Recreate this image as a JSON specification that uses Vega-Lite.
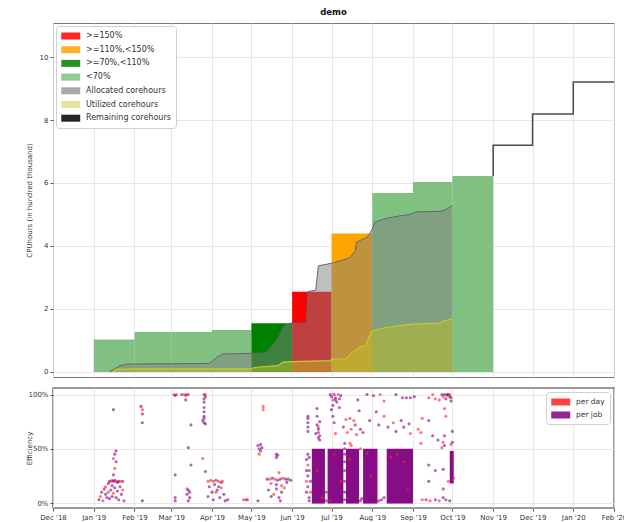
{
  "$schema": "https://vega.github.io/schema/vega-lite/v6.json",
  "padding": {"left": 24, "top": 7, "right": 0, "bottom": 0},
  "spacing": 9,
  "datasets": {
    "months": [
      {"s": "2019-01-01", "e": "2019-02-01", "v": 1.03, "c": "<70%"},
      {"s": "2019-02-01", "e": "2019-03-01", "v": 1.27, "c": "<70%"},
      {"s": "2019-03-01", "e": "2019-04-01", "v": 1.27, "c": "<70%"},
      {"s": "2019-04-01", "e": "2019-05-01", "v": 1.33, "c": "<70%"},
      {"s": "2019-05-01", "e": "2019-06-01", "v": 1.55, "c": ">=70%,<110%"},
      {"s": "2019-06-01", "e": "2019-07-01", "v": 2.55, "c": ">=150%"},
      {"s": "2019-07-01", "e": "2019-08-01", "v": 4.40, "c": ">=110%,<150%"},
      {"s": "2019-08-01", "e": "2019-09-01", "v": 5.68, "c": "<70%"},
      {"s": "2019-09-01", "e": "2019-10-01", "v": 6.03, "c": "<70%"},
      {"s": "2019-10-01", "e": "2019-11-01", "v": 6.22, "c": "<70%"}
    ],
    "alloc": [
      {"d": "2019-01-13", "v": 0}, {"d": "2019-01-21", "v": 0.20}, {"d": "2019-01-26", "v": 0.25},
      {"d": "2019-03-30", "v": 0.27}, {"d": "2019-04-05", "v": 0.47}, {"d": "2019-04-09", "v": 0.57},
      {"d": "2019-05-10", "v": 0.60}, {"d": "2019-05-13", "v": 0.64}, {"d": "2019-05-21", "v": 1.05},
      {"d": "2019-05-26", "v": 1.47}, {"d": "2019-05-31", "v": 1.55}, {"d": "2019-06-12", "v": 1.55},
      {"d": "2019-06-13", "v": 2.55}, {"d": "2019-06-19", "v": 2.60}, {"d": "2019-06-21", "v": 3.37},
      {"d": "2019-07-01", "v": 3.45}, {"d": "2019-07-12", "v": 3.58}, {"d": "2019-07-15", "v": 3.64},
      {"d": "2019-07-19", "v": 3.83}, {"d": "2019-07-20", "v": 4.12}, {"d": "2019-07-28", "v": 4.28},
      {"d": "2019-07-30", "v": 4.38}, {"d": "2019-08-01", "v": 4.55}, {"d": "2019-08-03", "v": 4.75},
      {"d": "2019-08-10", "v": 4.86}, {"d": "2019-08-21", "v": 4.95}, {"d": "2019-08-30", "v": 5.00},
      {"d": "2019-09-03", "v": 5.08}, {"d": "2019-09-22", "v": 5.10}, {"d": "2019-09-26", "v": 5.15},
      {"d": "2019-09-30", "v": 5.27}, {"d": "2019-10-01", "v": 5.27}
    ],
    "util": [
      {"d": "2019-01-15", "v": 0}, {"d": "2019-01-18", "v": 0.08}, {"d": "2019-02-01", "v": 0.10},
      {"d": "2019-04-30", "v": 0.10}, {"d": "2019-05-05", "v": 0.15}, {"d": "2019-05-21", "v": 0.20},
      {"d": "2019-05-25", "v": 0.31}, {"d": "2019-06-02", "v": 0.33}, {"d": "2019-06-30", "v": 0.36},
      {"d": "2019-07-01", "v": 0.41}, {"d": "2019-07-12", "v": 0.42}, {"d": "2019-07-17", "v": 0.63},
      {"d": "2019-07-23", "v": 0.79}, {"d": "2019-07-27", "v": 0.85}, {"d": "2019-07-30", "v": 1.15},
      {"d": "2019-08-01", "v": 1.31}, {"d": "2019-08-12", "v": 1.42}, {"d": "2019-09-01", "v": 1.52},
      {"d": "2019-09-21", "v": 1.55}, {"d": "2019-09-25", "v": 1.62}, {"d": "2019-09-30", "v": 1.68},
      {"d": "2019-10-01", "v": 1.68}
    ],
    "remain": [
      {"i": 0, "d": "2019-11-01", "v": 6.22}, {"i": 1, "d": "2019-11-01", "v": 7.20},
      {"i": 2, "d": "2019-12-01", "v": 7.20}, {"i": 3, "d": "2019-12-01", "v": 8.19},
      {"i": 4, "d": "2020-01-01", "v": 8.19}, {"i": 5, "d": "2020-01-01", "v": 9.21},
      {"i": 6, "d": "2020-02-01", "v": 9.21}
    ],
    "blocks": [
      {"d0": "2019-06-16", "d1": "2019-06-26", "e0": -0.005, "e1": 0.5, "t": "per job"},
      {"d0": "2019-06-28", "d1": "2019-07-10", "e0": -0.005, "e1": 0.5, "t": "per job"},
      {"d0": "2019-07-12", "d1": "2019-07-22", "e0": -0.005, "e1": 0.5, "t": "per job"},
      {"d0": "2019-07-25", "d1": "2019-08-05", "e0": -0.005, "e1": 0.5, "t": "per job"},
      {"d0": "2019-08-12", "d1": "2019-09-01", "e0": -0.005, "e1": 0.5, "t": "per job"},
      {"d0": "2019-09-29", "d1": "2019-10-02", "e0": 0.18, "e1": 0.48, "t": "per job"}
    ],
    "pts": [
      {"d": "2019-01-16", "e": 0.86, "t": "per job"},
      {"d": "2019-01-05", "e": 0.03, "t": "per job"},
      {"d": "2019-01-06", "e": 0.06, "t": "per day"},
      {"d": "2019-01-07", "e": 0.10, "t": "per job"},
      {"d": "2019-01-08", "e": 0.02, "t": "per day"},
      {"d": "2019-01-09", "e": 0.13, "t": "per job"},
      {"d": "2019-01-10", "e": 0.08, "t": "per job"},
      {"d": "2019-01-10", "e": 0.15, "t": "per day"},
      {"d": "2019-01-11", "e": 0.05, "t": "per job"},
      {"d": "2019-01-12", "e": 0.18, "t": "per job"},
      {"d": "2019-01-12", "e": 0.10, "t": "per day"},
      {"d": "2019-01-13", "e": 0.20, "t": "per job"},
      {"d": "2019-01-13", "e": 0.04, "t": "per job"},
      {"d": "2019-01-14", "e": 0.20, "t": "per day"},
      {"d": "2019-01-14", "e": 0.12, "t": "per job"},
      {"d": "2019-01-15", "e": 0.21, "t": "per day"},
      {"d": "2019-01-15", "e": 0.16, "t": "per job"},
      {"d": "2019-01-15", "e": 0.06, "t": "per job"},
      {"d": "2019-01-16", "e": 0.20, "t": "per job"},
      {"d": "2019-01-16", "e": 0.09, "t": "per day"},
      {"d": "2019-01-17", "e": 0.21, "t": "per job"},
      {"d": "2019-01-17", "e": 0.14, "t": "per job"},
      {"d": "2019-01-18", "e": 0.20, "t": "per day"},
      {"d": "2019-01-18", "e": 0.05, "t": "per job"},
      {"d": "2019-01-19", "e": 0.19, "t": "per job"},
      {"d": "2019-01-19", "e": 0.11, "t": "per job"},
      {"d": "2019-01-20", "e": 0.20, "t": "per job"},
      {"d": "2019-01-20", "e": 0.03, "t": "per job"},
      {"d": "2019-01-21", "e": 0.15, "t": "per job"},
      {"d": "2019-01-21", "e": 0.20, "t": "per day"},
      {"d": "2019-01-22", "e": 0.08, "t": "per job"},
      {"d": "2019-01-23", "e": 0.20, "t": "per job"},
      {"d": "2019-01-23", "e": 0.12, "t": "per day"},
      {"d": "2019-01-24", "e": 0.02, "t": "per job"},
      {"d": "2019-01-17", "e": 0.32, "t": "per day"},
      {"d": "2019-01-16", "e": 0.41, "t": "per day"},
      {"d": "2019-01-17", "e": 0.45, "t": "per job"},
      {"d": "2019-01-18", "e": 0.48, "t": "per job"},
      {"d": "2019-01-18", "e": 0.38, "t": "per job"},
      {"d": "2019-01-16", "e": 0.26, "t": "per job"},
      {"d": "2019-02-07", "e": 0.86, "t": "per day"},
      {"d": "2019-02-07", "e": 0.82, "t": "per job"},
      {"d": "2019-02-06", "e": 0.89, "t": "per job"},
      {"d": "2019-02-07", "e": 0.74, "t": "per job"},
      {"d": "2019-02-07", "e": 0.02, "t": "per job"},
      {"d": "2019-03-03", "e": 1.00, "t": "per day"},
      {"d": "2019-03-04", "e": 0.99, "t": "per job"},
      {"d": "2019-03-05", "e": 1.00, "t": "per day"},
      {"d": "2019-03-09", "e": 1.00, "t": "per job"},
      {"d": "2019-03-11", "e": 1.00, "t": "per day"},
      {"d": "2019-03-12", "e": 0.99, "t": "per day"},
      {"d": "2019-03-13", "e": 1.00, "t": "per job"},
      {"d": "2019-03-14", "e": 1.00, "t": "per day"},
      {"d": "2019-03-12", "e": 0.95, "t": "per job"},
      {"d": "2019-03-16", "e": 0.72, "t": "per job"},
      {"d": "2019-03-14", "e": 0.51, "t": "per job"},
      {"d": "2019-03-16", "e": 0.35, "t": "per job"},
      {"d": "2019-03-04", "e": 0.26, "t": "per job"},
      {"d": "2019-03-13", "e": 0.13, "t": "per day"},
      {"d": "2019-03-04", "e": 0.05, "t": "per job"},
      {"d": "2019-03-04", "e": 0.02, "t": "per job"},
      {"d": "2019-03-13", "e": 0.08, "t": "per job"},
      {"d": "2019-03-14", "e": 0.02, "t": "per job"},
      {"d": "2019-03-15", "e": 0.05, "t": "per job"},
      {"d": "2019-03-15", "e": 0.10, "t": "per job"},
      {"d": "2019-03-14", "e": 0.12, "t": "per job"},
      {"d": "2019-03-26", "e": 1.00, "t": "per job"},
      {"d": "2019-03-27", "e": 0.98, "t": "per job"},
      {"d": "2019-03-26", "e": 0.96, "t": "per job"},
      {"d": "2019-03-27", "e": 1.00, "t": "per day"},
      {"d": "2019-03-26", "e": 0.93, "t": "per job"},
      {"d": "2019-03-26", "e": 0.88, "t": "per job"},
      {"d": "2019-03-26", "e": 0.84, "t": "per job"},
      {"d": "2019-03-26", "e": 0.80, "t": "per job"},
      {"d": "2019-03-25", "e": 0.76, "t": "per job"},
      {"d": "2019-03-26", "e": 0.74, "t": "per job"},
      {"d": "2019-03-27", "e": 0.73, "t": "per job"},
      {"d": "2019-03-26", "e": 0.78, "t": "per job"},
      {"d": "2019-03-25", "e": 0.41, "t": "per day"},
      {"d": "2019-03-27", "e": 0.29, "t": "per job"},
      {"d": "2019-03-29", "e": 0.20, "t": "per day"},
      {"d": "2019-03-31", "e": 0.21, "t": "per day"},
      {"d": "2019-04-02", "e": 0.20, "t": "per day"},
      {"d": "2019-04-04", "e": 0.21, "t": "per job"},
      {"d": "2019-04-06", "e": 0.20, "t": "per day"},
      {"d": "2019-04-08", "e": 0.19, "t": "per job"},
      {"d": "2019-04-09", "e": 0.20, "t": "per day"},
      {"d": "2019-03-30", "e": 0.15, "t": "per job"},
      {"d": "2019-04-01", "e": 0.10, "t": "per job"},
      {"d": "2019-04-03", "e": 0.17, "t": "per job"},
      {"d": "2019-04-05", "e": 0.12, "t": "per job"},
      {"d": "2019-04-07", "e": 0.05, "t": "per job"},
      {"d": "2019-04-08", "e": 0.14, "t": "per day"},
      {"d": "2019-04-10", "e": 0.08, "t": "per job"},
      {"d": "2019-03-29", "e": 0.06, "t": "per job"},
      {"d": "2019-04-02", "e": 0.03, "t": "per job"},
      {"d": "2019-04-04", "e": 0.10, "t": "per day"},
      {"d": "2019-04-06", "e": 0.15, "t": "per job"},
      {"d": "2019-04-11", "e": 0.02, "t": "per job"},
      {"d": "2019-04-13", "e": 0.03, "t": "per job"},
      {"d": "2019-04-25", "e": 0.03, "t": "per day"},
      {"d": "2019-04-27", "e": 0.03, "t": "per job"},
      {"d": "2019-04-28", "e": 0.03, "t": "per day"},
      {"d": "2019-05-06", "e": 0.02, "t": "per job"},
      {"d": "2019-05-10", "e": 0.89, "t": "per day"},
      {"d": "2019-05-10", "e": 0.86, "t": "per day"},
      {"d": "2019-05-06", "e": 0.53, "t": "per job"},
      {"d": "2019-05-07", "e": 0.50, "t": "per job"},
      {"d": "2019-05-08", "e": 0.48, "t": "per job"},
      {"d": "2019-05-07", "e": 0.45, "t": "per day"},
      {"d": "2019-05-09", "e": 0.51, "t": "per job"},
      {"d": "2019-05-08", "e": 0.54, "t": "per job"},
      {"d": "2019-05-20", "e": 0.45, "t": "per job"},
      {"d": "2019-05-20", "e": 0.42, "t": "per job"},
      {"d": "2019-05-21", "e": 0.44, "t": "per job"},
      {"d": "2019-05-13", "e": 0.22, "t": "per job"},
      {"d": "2019-05-15", "e": 0.22, "t": "per day"},
      {"d": "2019-05-17", "e": 0.23, "t": "per job"},
      {"d": "2019-05-19", "e": 0.22, "t": "per day"},
      {"d": "2019-05-21", "e": 0.21, "t": "per job"},
      {"d": "2019-05-23", "e": 0.22, "t": "per job"},
      {"d": "2019-05-25", "e": 0.23, "t": "per day"},
      {"d": "2019-05-27", "e": 0.22, "t": "per job"},
      {"d": "2019-05-29", "e": 0.22, "t": "per job"},
      {"d": "2019-05-31", "e": 0.21, "t": "per job"},
      {"d": "2019-05-16", "e": 0.18, "t": "per day"},
      {"d": "2019-05-20", "e": 0.17, "t": "per job"},
      {"d": "2019-05-24", "e": 0.16, "t": "per day"},
      {"d": "2019-05-28", "e": 0.19, "t": "per job"},
      {"d": "2019-05-22", "e": 0.28, "t": "per day"},
      {"d": "2019-05-14", "e": 0.12, "t": "per job"},
      {"d": "2019-05-18", "e": 0.08, "t": "per day"},
      {"d": "2019-05-20", "e": 0.13, "t": "per job"},
      {"d": "2019-05-22", "e": 0.05, "t": "per job"},
      {"d": "2019-05-24", "e": 0.10, "t": "per job"},
      {"d": "2019-05-26", "e": 0.14, "t": "per day"},
      {"d": "2019-05-16", "e": 0.06, "t": "per job"},
      {"d": "2019-05-23", "e": 0.02, "t": "per job"},
      {"d": "2019-06-13", "e": 0.66, "t": "per job"},
      {"d": "2019-06-13", "e": 0.70, "t": "per job"},
      {"d": "2019-06-13", "e": 0.74, "t": "per job"},
      {"d": "2019-06-13", "e": 0.78, "t": "per job"},
      {"d": "2019-06-13", "e": 0.80, "t": "per job"},
      {"d": "2019-06-20", "e": 0.87, "t": "per job"},
      {"d": "2019-06-20", "e": 0.80, "t": "per job"},
      {"d": "2019-06-20", "e": 0.72, "t": "per job"},
      {"d": "2019-06-21", "e": 0.70, "t": "per day"},
      {"d": "2019-06-21", "e": 0.68, "t": "per job"},
      {"d": "2019-06-21", "e": 0.65, "t": "per job"},
      {"d": "2019-06-22", "e": 0.62, "t": "per job"},
      {"d": "2019-06-22", "e": 0.75, "t": "per job"},
      {"d": "2019-06-21", "e": 0.60, "t": "per job"},
      {"d": "2019-06-19", "e": 0.64, "t": "per job"},
      {"d": "2019-06-22", "e": 0.58, "t": "per job"},
      {"d": "2019-06-12", "e": 0.10, "t": "per job"},
      {"d": "2019-06-12", "e": 0.20, "t": "per day"},
      {"d": "2019-06-12", "e": 0.30, "t": "per job"},
      {"d": "2019-06-12", "e": 0.40, "t": "per job"},
      {"d": "2019-06-13", "e": 0.45, "t": "per job"},
      {"d": "2019-06-13", "e": 0.15, "t": "per job"},
      {"d": "2019-06-13", "e": 0.25, "t": "per job"},
      {"d": "2019-06-13", "e": 0.35, "t": "per day"},
      {"d": "2019-06-14", "e": 0.05, "t": "per job"},
      {"d": "2019-06-14", "e": 0.30, "t": "per job"},
      {"d": "2019-06-14", "e": 0.42, "t": "per job"},
      {"d": "2019-06-14", "e": 0.02, "t": "per job"},
      {"d": "2019-06-15", "e": 0.20, "t": "per job"},
      {"d": "2019-06-15", "e": 0.10, "t": "per day"},
      {"d": "2019-06-30", "e": 1.00, "t": "per job"},
      {"d": "2019-07-01", "e": 0.98, "t": "per job"},
      {"d": "2019-07-02", "e": 0.95, "t": "per day"},
      {"d": "2019-07-03", "e": 1.00, "t": "per job"},
      {"d": "2019-07-04", "e": 0.97, "t": "per job"},
      {"d": "2019-07-05", "e": 0.93, "t": "per job"},
      {"d": "2019-07-06", "e": 1.00, "t": "per day"},
      {"d": "2019-07-07", "e": 0.96, "t": "per job"},
      {"d": "2019-07-08", "e": 0.99, "t": "per job"},
      {"d": "2019-07-02", "e": 0.90, "t": "per job"},
      {"d": "2019-07-01", "e": 0.86, "t": "per job"},
      {"d": "2019-07-02", "e": 0.80, "t": "per job"},
      {"d": "2019-07-03", "e": 0.74, "t": "per job"},
      {"d": "2019-07-04", "e": 0.95, "t": "per job"},
      {"d": "2019-07-07", "e": 0.88, "t": "per job"},
      {"d": "2019-07-10", "e": 0.70, "t": "per job"},
      {"d": "2019-07-13", "e": 0.65, "t": "per day"},
      {"d": "2019-07-15", "e": 0.55, "t": "per day"},
      {"d": "2019-07-16", "e": 0.53, "t": "per day"},
      {"d": "2019-07-23", "e": 0.50, "t": "per day"},
      {"d": "2019-07-11", "e": 0.55, "t": "per job"},
      {"d": "2019-07-11", "e": 0.50, "t": "per job"},
      {"d": "2019-07-11", "e": 0.45, "t": "per job"},
      {"d": "2019-07-11", "e": 0.38, "t": "per job"},
      {"d": "2019-07-11", "e": 0.30, "t": "per job"},
      {"d": "2019-07-11", "e": 0.20, "t": "per job"},
      {"d": "2019-07-11", "e": 0.10, "t": "per job"},
      {"d": "2019-07-11", "e": 0.03, "t": "per job"},
      {"d": "2019-07-21", "e": 0.95, "t": "per job"},
      {"d": "2019-07-28", "e": 1.00, "t": "per job"},
      {"d": "2019-08-02", "e": 0.99, "t": "per job"},
      {"d": "2019-08-07", "e": 1.00, "t": "per day"},
      {"d": "2019-08-10", "e": 0.94, "t": "per day"},
      {"d": "2019-08-19", "e": 1.00, "t": "per job"},
      {"d": "2019-08-24", "e": 0.97, "t": "per job"},
      {"d": "2019-08-27", "e": 0.97, "t": "per job"},
      {"d": "2019-08-30", "e": 0.97, "t": "per job"},
      {"d": "2019-09-02", "e": 0.98, "t": "per job"},
      {"d": "2019-09-13", "e": 0.97, "t": "per day"},
      {"d": "2019-09-16", "e": 1.00, "t": "per day"},
      {"d": "2019-09-18", "e": 0.96, "t": "per day"},
      {"d": "2019-09-21", "e": 0.95, "t": "per day"},
      {"d": "2019-09-23", "e": 1.00, "t": "per job"},
      {"d": "2019-09-24", "e": 0.98, "t": "per day"},
      {"d": "2019-09-25", "e": 1.00, "t": "per job"},
      {"d": "2019-09-26", "e": 0.96, "t": "per job"},
      {"d": "2019-09-27", "e": 0.99, "t": "per day"},
      {"d": "2019-09-28", "e": 1.00, "t": "per job"},
      {"d": "2019-09-30", "e": 0.97, "t": "per job"},
      {"d": "2019-09-27", "e": 1.00, "t": "per job"},
      {"d": "2019-09-29", "e": 0.98, "t": "per job"},
      {"d": "2019-09-29", "e": 1.00, "t": "per day"},
      {"d": "2019-09-30", "e": 0.94, "t": "per job"},
      {"d": "2019-09-25", "e": 0.87, "t": "per day"},
      {"d": "2019-07-12", "e": 0.77, "t": "per day"},
      {"d": "2019-07-15", "e": 0.78, "t": "per day"},
      {"d": "2019-07-18", "e": 0.76, "t": "per day"},
      {"d": "2019-07-19", "e": 0.72, "t": "per job"},
      {"d": "2019-07-22", "e": 0.85, "t": "per job"},
      {"d": "2019-07-23", "e": 0.68, "t": "per job"},
      {"d": "2019-07-25", "e": 0.65, "t": "per job"},
      {"d": "2019-07-04", "e": 0.64, "t": "per day"},
      {"d": "2019-07-16", "e": 0.68, "t": "per day"},
      {"d": "2019-07-20", "e": 0.63, "t": "per day"},
      {"d": "2019-07-30", "e": 0.76, "t": "per job"},
      {"d": "2019-08-04", "e": 0.84, "t": "per job"},
      {"d": "2019-08-06", "e": 0.72, "t": "per job"},
      {"d": "2019-08-10", "e": 0.80, "t": "per day"},
      {"d": "2019-08-13", "e": 0.70, "t": "per job"},
      {"d": "2019-08-17", "e": 0.74, "t": "per day"},
      {"d": "2019-08-19", "e": 0.66, "t": "per job"},
      {"d": "2019-08-23", "e": 0.76, "t": "per job"},
      {"d": "2019-08-25", "e": 0.70, "t": "per job"},
      {"d": "2019-08-29", "e": 0.73, "t": "per job"},
      {"d": "2019-08-30", "e": 0.64, "t": "per day"},
      {"d": "2019-09-05", "e": 0.68, "t": "per day"},
      {"d": "2019-09-07", "e": 0.65, "t": "per day"},
      {"d": "2019-09-07", "e": 0.55, "t": "per day"},
      {"d": "2019-09-08", "e": 0.78, "t": "per day"},
      {"d": "2019-09-13", "e": 0.76, "t": "per job"},
      {"d": "2019-09-16", "e": 0.62, "t": "per job"},
      {"d": "2019-09-20", "e": 0.58, "t": "per job"},
      {"d": "2019-09-24", "e": 0.56, "t": "per day"},
      {"d": "2019-09-23", "e": 0.51, "t": "per day"},
      {"d": "2019-09-26", "e": 0.80, "t": "per day"},
      {"d": "2019-09-25", "e": 0.53, "t": "per job"},
      {"d": "2019-09-25", "e": 0.62, "t": "per job"},
      {"d": "2019-10-01", "e": 0.56, "t": "per job"},
      {"d": "2019-10-01", "e": 0.66, "t": "per job"},
      {"d": "2019-09-30", "e": 0.54, "t": "per day"},
      {"d": "2019-09-13", "e": 0.35, "t": "per job"},
      {"d": "2019-09-18", "e": 0.30, "t": "per job"},
      {"d": "2019-09-24", "e": 0.31, "t": "per job"},
      {"d": "2019-09-13", "e": 0.20, "t": "per job"},
      {"d": "2019-09-28", "e": 0.20, "t": "per day"},
      {"d": "2019-10-02", "e": 0.23, "t": "per day"},
      {"d": "2019-09-24", "e": 0.13, "t": "per job"},
      {"d": "2019-09-24", "e": 0.05, "t": "per job"},
      {"d": "2019-09-08", "e": 0.03, "t": "per day"},
      {"d": "2019-09-11", "e": 0.03, "t": "per job"},
      {"d": "2019-09-14", "e": 0.02, "t": "per day"},
      {"d": "2019-09-18", "e": 0.03, "t": "per job"},
      {"d": "2019-09-21", "e": 0.02, "t": "per day"},
      {"d": "2019-09-26", "e": 0.03, "t": "per job"},
      {"d": "2019-09-29", "e": 0.02, "t": "per job"},
      {"d": "2019-06-20", "e": 0.30, "t": "per day"},
      {"d": "2019-07-03", "e": 0.45, "t": "per day"},
      {"d": "2019-07-15", "e": 0.40, "t": "per day"},
      {"d": "2019-07-28", "e": 0.46, "t": "per day"},
      {"d": "2019-08-15", "e": 0.42, "t": "per day"},
      {"d": "2019-08-20", "e": 0.45, "t": "per day"},
      {"d": "2019-08-25", "e": 0.38, "t": "per day"},
      {"d": "2019-07-31", "e": 0.25, "t": "per day"},
      {"d": "2019-06-24", "e": 0.05, "t": "per day"},
      {"d": "2019-06-30", "e": 0.02, "t": "per day"},
      {"d": "2019-07-08", "e": 0.20, "t": "per day"},
      {"d": "2019-08-28", "e": 0.12, "t": "per day"},
      {"d": "2019-07-23", "e": 0.02, "t": "per job"},
      {"d": "2019-07-24", "e": 0.04, "t": "per job"},
      {"d": "2019-08-06", "e": 0.02, "t": "per job"},
      {"d": "2019-08-08", "e": 0.03, "t": "per job"},
      {"d": "2019-08-10", "e": 0.05, "t": "per job"},
      {"d": "2019-06-27", "e": 0.02, "t": "per job"},
      {"d": "2019-06-27", "e": 0.10, "t": "per job"}
    ]
  },
  "vconcat": [
    {
      "width": 561,
      "height": 354,
      "title": {"text": "demo", "fontSize": 8.5, "fontWeight": "bold", "offset": 7, "color": "#111"},
      "layer": [
        {
          "data": {"name": "months"},
          "mark": {"type": "rect"},
          "encoding": {
            "x": {"field": "s", "type": "temporal",
                  "scale": {"type": "utc", "domain": [{"year": 2018, "month": 12, "date": 1, "utc": true}, {"year": 2020, "month": 2, "date": 1, "utc": true}]},
                  "axis": {"labels": false, "ticks": false, "domain": false, "title": null, "grid": true, "tickCount": {"interval": "month", "step": 1}, "minExtent": 0, "maxExtent": 0}},
            "x2": {"field": "e"},
            "y": {"field": "v", "type": "quantitative",
                  "scale": {"domain": [-0.16, 11.08], "nice": false, "zero": false},
                  "axis": {"title": "CPUhours (in hundred thousand)", "values": [0, 2, 4, 6, 8, 10], "grid": true, "minExtent": 18, "maxExtent": 18, "titlePadding": 3}},
            "y2": {"datum": 0},
            "color": {"field": "c", "type": "nominal",
                      "scale": {"domain": [">=150%", ">=110%,<150%", ">=70%,<110%", "<70%", "Allocated corehours", "Utilized corehours", "Remaining corehours"],
                                "range": ["#ff0000", "#ffa500", "#008000", "#80c080", "#9a9a9a", "#e0e08c", "#000000"]},
                      "legend": {"title": null, "orient": "top-left", "offset": 3, "labelFontSize": 8, "rowPadding": 4.7}}
          }
        },
        {
          "data": {"name": "alloc"},
          "mark": {"type": "area", "color": "#808080", "fillOpacity": 0.5, "line": {"color": "#666666", "strokeWidth": 1}},
          "encoding": {
            "x": {"field": "d", "type": "temporal"},
            "y": {"field": "v", "type": "quantitative"},
            "y2": {"datum": 0}
          }
        },
        {
          "data": {"name": "util"},
          "mark": {"type": "area", "color": "#bcbd22", "fillOpacity": 0.5, "line": {"color": "#c8c830", "strokeWidth": 1.2}},
          "encoding": {
            "x": {"field": "d", "type": "temporal"},
            "y": {"field": "v", "type": "quantitative"},
            "y2": {"datum": 0}
          }
        },
        {
          "data": {"name": "remain"},
          "mark": {"type": "line", "color": "#000000", "strokeWidth": 1.5, "opacity": 0.7},
          "encoding": {
            "x": {"field": "d", "type": "temporal"},
            "y": {"field": "v", "type": "quantitative"},
            "order": {"field": "i"}
          }
        }
      ]
    },
    {
      "width": 561,
      "height": 120,
      "view": {"strokeWidth": 1.5},
      "layer": [
        {
          "data": {"name": "blocks"},
          "mark": {"type": "rect", "opacity": 0.95},
          "encoding": {
            "x": {"field": "d0", "type": "temporal",
                  "scale": {"type": "utc", "domain": [{"year": 2018, "month": 12, "date": 1, "utc": true}, {"year": 2020, "month": 2, "date": 1, "utc": true}]},
                  "axis": {"title": null, "format": "%b '%y", "tickCount": {"interval": "month", "step": 1}, "grid": true, "labelOverlap": false, "labelFlush": false}},
            "x2": {"field": "d1"},
            "y": {"field": "e0", "type": "quantitative",
                  "scale": {"domain": [-0.046, 1.06], "nice": false, "zero": false},
                  "axis": {"title": "Efficiency", "values": [0, 0.25, 0.5, 0.75, 1], "format": ".0%", "grid": true, "minExtent": 18, "maxExtent": 18, "titlePadding": 3}},
            "y2": {"field": "e1"},
            "color": {"field": "t", "type": "nominal",
                      "scale": {"domain": ["per day", "per job"], "range": ["#ff2020", "#800080"]},
                      "legend": {"title": null, "orient": "top-right", "offset": 4, "labelFontSize": 7.5}}
          }
        },
        {
          "data": {"name": "pts"},
          "mark": {"type": "point", "filled": true, "size": 10, "opacity": 0.6},
          "encoding": {
            "x": {"field": "d", "type": "temporal"},
            "y": {"field": "e", "type": "quantitative"},
            "color": {"field": "t", "type": "nominal"}
          }
        }
      ]
    }
  ],
  "resolve": {"scale": {"color": "independent"}, "legend": {"color": "independent"}},
  "config": {
    "font": "DejaVu Sans",
    "view": {"stroke": "#777777", "strokeWidth": 1},
    "axis": {"labelFontSize": 7, "titleFontSize": 7, "titleFontWeight": "normal", "labelColor": "#333333", "titleColor": "#333333",
             "gridColor": "#e2e2e2", "gridWidth": 0.8, "tickColor": "#555555", "tickSize": 3, "domain": false, "labelPadding": 2},
    "legend": {"symbolType": "M-1,-0.74H3V0.74H-1Z", "symbolSize": 90, "symbolStrokeWidth": 0, "symbolOpacity": 0.85,
               "labelFontSize": 7, "labelColor": "#333333", "rowPadding": 4, "padding": 5, "fillColor": "white", "strokeColor": "#d0d0d0",
               "cornerRadius": 3, "labelOffset": 15}
  }
}
